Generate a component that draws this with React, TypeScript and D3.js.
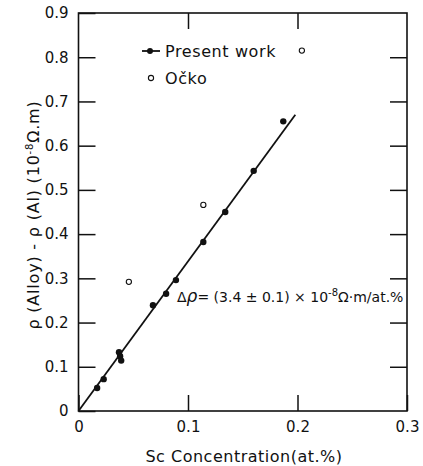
import React, { useRef, useEffect } from 'react'
import * as d3 from 'd3'

// Present work (filled dots)
const presentX = [0.017, 0.023, 0.037, 0.038, 0.039, 0.068, 0.080, 0.089, 0.114, 0.134, 0.160, 0.187]
const presentY = [0.052, 0.072, 0.133, 0.124, 0.114, 0.239, 0.265, 0.296, 0.382, 0.450, 0.543, 0.655]
// Ocko (open circles)
const ockoX = [0.046, 0.114, 0.204]
const ockoY = [0.292, 0.466, 0.815]
// fitted line
const fitX = [0, 0.198]
const fitY = [0, 0.67]

const xTicks = [0, 0.1, 0.2, 0.3]
const yTicks = [0, 0.1, 0.2, 0.3, 0.4, 0.5, 0.6, 0.7, 0.8, 0.9]

const layout = { width: 423, height: 466, left: 78.5, right: 407, top: 13, bottom: 411 }
const font = '"DejaVu Sans", sans-serif'

export default function App() {
  const ref = useRef<SVGSVGElement>(null)

  useEffect(() => {
    const svg = d3.select(ref.current)
    svg.selectAll('*').remove()

    const x = d3.scaleLinear().domain([0, 0.3]).range([layout.left, layout.right])
    const y = d3.scaleLinear().domain([0, 0.9]).range([layout.bottom, layout.top])

    // frame
    svg.append('rect')
      .attr('x', layout.left).attr('y', layout.top)
      .attr('width', layout.right - layout.left).attr('height', layout.bottom - layout.top)
      .attr('fill', 'none').attr('stroke', '#111').attr('stroke-width', 1.6)

    const styleAxis = (g: any) => {
      g.select('.domain').remove()
      g.selectAll('line').attr('stroke', '#111').attr('stroke-width', 1.5)
      g.selectAll('text').attr('font-family', font).attr('font-size', 15).attr('fill', '#111')
    }

    svg.append('g')
      .attr('transform', `translate(${layout.left},0)`)
      .call(d3.axisLeft(y).tickValues(yTicks).tickSizeInner(-17).tickSizeOuter(0).tickPadding(10)
        .tickFormat(d => d === 0 ? '0' : d3.format('.1f')(d as number)))
      .call(styleAxis)

    svg.append('g')
      .attr('transform', `translate(${layout.right},0)`)
      .call(d3.axisRight(y).tickValues(yTicks.slice(1, -1)).tickSizeInner(-17).tickSizeOuter(0).tickFormat(() => ''))
      .call(styleAxis)

    svg.append('g')
      .attr('transform', `translate(0,${layout.bottom})`)
      .call(d3.axisBottom(x).tickValues(xTicks).tickSizeInner(-16).tickSizeOuter(0).tickPadding(10)
        .tickFormat(d => d === 0 ? '0' : d3.format('.1f')(d as number)))
      .call(styleAxis)

    svg.append('g')
      .attr('transform', `translate(0,${layout.top})`)
      .call(d3.axisTop(x).tickValues(xTicks.slice(1, -1)).tickSizeInner(-16).tickSizeOuter(0).tickFormat(() => ''))
      .call(styleAxis)

    // fit line
    const line = d3.line<number>().x((d, i) => x(fitX[i])).y((d, i) => y(fitY[i]))
    svg.append('path')
      .attr('d', line(fitX))
      .attr('fill', 'none').attr('stroke', '#111').attr('stroke-width', 1.8)

    svg.append('g').selectAll('circle')
      .data(presentX)
      .join('circle')
      .attr('cx', d => x(d))
      .attr('cy', (d, i) => y(presentY[i]))
      .attr('r', 3.2)
      .attr('fill', '#111')

    svg.append('g').selectAll('circle')
      .data(ockoX)
      .join('circle')
      .attr('cx', d => x(d))
      .attr('cy', (d, i) => y(ockoY[i]))
      .attr('r', 2.6)
      .attr('fill', 'white').attr('stroke', '#111').attr('stroke-width', 1.1)

    // legend
    const leg = svg.append('g')
    leg.append('line').attr('x1', 142).attr('x2', 160).attr('y1', 51).attr('y2', 51)
      .attr('stroke', '#111').attr('stroke-width', 1.8)
    leg.append('circle').attr('cx', 150).attr('cy', 51).attr('r', 3).attr('fill', '#111')
    leg.append('text').attr('x', 165).attr('y', 57).text('Present work')
      .attr('font-family', font).attr('font-size', 16).attr('letter-spacing', 0.6).attr('fill', '#111')
    leg.append('circle').attr('cx', 151).attr('cy', 78).attr('r', 2.6)
      .attr('fill', 'white').attr('stroke', '#111').attr('stroke-width', 1.1)
    leg.append('text').attr('x', 165).attr('y', 84).text('Očko')
      .attr('font-family', font).attr('font-size', 16).attr('letter-spacing', 0.6).attr('fill', '#111')

    // annotation
    const ann = svg.append('text').attr('x', 177).attr('y', 302)
      .attr('font-family', font).attr('font-size', 14).attr('fill', '#111')
    ann.append('tspan').text('Δ')
    ann.append('tspan').attr('font-style', 'italic').attr('font-size', 17).text('ρ')
    ann.append('tspan').text('= (3.4 ± 0.1) × 10')
    ann.append('tspan').attr('dy', -6).attr('font-size', 10).text('-8')
    ann.append('tspan').attr('dy', 6).text('Ω·m/at.%')

    // axis titles
    svg.append('text')
      .attr('x', 244).attr('y', 462).attr('text-anchor', 'middle')
      .attr('font-family', font).attr('font-size', 16).attr('letter-spacing', 0.5).attr('fill', '#111')
      .text('Sc Concentration(at.%)')

    const yl = svg.append('text')
      .attr('transform', 'translate(39,215) rotate(-90)').attr('text-anchor', 'middle')
      .attr('font-family', font).attr('font-size', 16).attr('letter-spacing', 0.8).attr('fill', '#111')
    yl.append('tspan').text('ρ (Alloy) - ρ (Al)  (10')
    yl.append('tspan').attr('dy', -6).attr('font-size', 10).text('-8')
    yl.append('tspan').attr('dy', 6).text('Ω.m)')
  }, [])

  return (
    <div style={{ position: 'fixed', left: 0, top: 0 }}>
      <svg ref={ref} width={layout.width} height={layout.height} style={{ display: 'block', background: 'white' }} />
    </div>
  )
}
